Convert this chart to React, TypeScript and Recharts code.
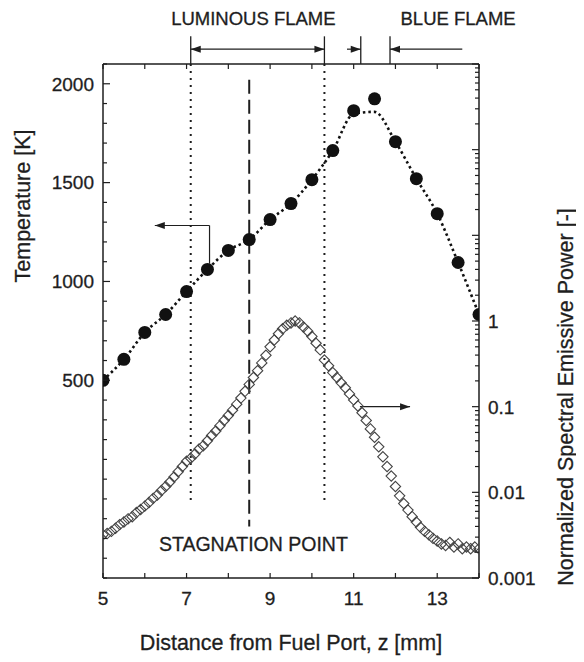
import React from 'react';
import {
  ComposedChart,
  Line,
  Scatter,
  XAxis,
  YAxis,
  ReferenceLine,
  ReferenceDot,
  Label,
} from 'recharts';

const FONT = '"Liberation Sans", Arial, Helvetica, sans-serif';
const INK = '#1e1e1e';

// temperature measurements (filled circles) and the dotted fit through them
const tempZ = [5, 5.5, 6, 6.5, 7, 7.5, 8, 8.5, 9, 9.5, 10, 10.5, 11, 11.5, 12, 12.5, 13, 13.5, 14];
const temperature = [500, 606, 742, 833, 949, 1061, 1157, 1212, 1313, 1394, 1515, 1662, 1864, 1924, 1707, 1520, 1343, 1096, 833];
const temperatureFit = [500, 606, 742, 833, 949, 1061, 1157, 1212, 1313, 1394, 1515, 1662, 1848, 1858, 1707, 1520, 1343, 1096, 833];

// normalized spectral emissive power, one sample every 0.1 mm from z = 5.0 to 14.0
const emission = [
  0.0032, 0.0033, 0.0035, 0.0038, 0.0042, 0.0045, 0.0049, 0.0052, 0.0058, 0.0063,
  0.0069, 0.0076, 0.0085, 0.0093, 0.0105, 0.0117, 0.0132, 0.0151, 0.0174, 0.020,
  0.023, 0.025, 0.028, 0.032, 0.035, 0.040, 0.046, 0.052, 0.060, 0.069,
  0.079, 0.091, 0.107, 0.126, 0.151, 0.182, 0.219, 0.263, 0.324, 0.398,
  0.50, 0.60, 0.71, 0.81, 0.89, 0.95, 1.0, 0.95, 0.85, 0.76,
  0.66, 0.55, 0.46, 0.35, 0.30, 0.25, 0.219, 0.19, 0.166, 0.141,
  0.120, 0.102, 0.085, 0.069, 0.055, 0.044, 0.034, 0.026, 0.020, 0.0155,
  0.0117, 0.0091, 0.0074, 0.0062, 0.0052, 0.0045, 0.0039, 0.0035, 0.0032, 0.0029,
  0.0027, 0.0025, 0.0024, 0.0026, 0.0023, 0.0025, 0.0022, 0.0023, 0.0022, 0.0023,
  0.0022,
];
const emissionZ = emission.map((_, i) => (50 + i) / 10);

const zTicks = [5, 6, 7, 8, 9, 10, 11, 12, 13, 14];
const zTickLabels = [5, 7, 9, 11, 13];
const tempTicks = Array.from({ length: 27 }, (_, i) => -500 + i * 100);
const tempTickLabels = [500, 1000, 1500, 2000];
const emissionDecades = [0.001, 0.01, 0.1, 1, 10, 100, 1000];
const emissionTicks = emissionDecades.flatMap((d) =>
  d === 1000 ? [d] : [1, 2, 3, 4, 5, 6, 7, 8, 9].map((m) => Number((d * m).toPrecision(3)))
);
const emissionTickLabels = [0.001, 0.01, 0.1, 1];

const tempPoints = tempZ.map((z, i) => ({ z, T: temperature[i] }));
const tempFitPoints = tempZ.map((z, i) => ({ z, T: temperatureFit[i] }));
const emissionPoints = emissionZ.map((z, i) => ({ z, E: emission[i] }));

const TICK_FS = 19;
const heavy = { stroke: INK, strokeWidth: 0.3 };

const LeftTick = (p: any) => {
  const { x, y, payload } = p;
  const major = tempTickLabels.includes(payload.value);
  return (
    <g>
      <line x1={x} y1={y} x2={x + (major ? 7 : 4)} y2={y} stroke={INK} strokeWidth={1.2} />
      {major && (
        <text x={x - 9} y={y} dy="0.36em" textAnchor="end" fontSize={TICK_FS} fill={INK} fontFamily={FONT} {...heavy}>
          {payload.value}
        </text>
      )}
    </g>
  );
};

const RightTick = (p: any) => {
  const { x, y, payload } = p;
  const major = emissionDecades.includes(payload.value);
  return (
    <g>
      <line x1={x} y1={y} x2={x - (major ? 7 : 4)} y2={y} stroke={INK} strokeWidth={1.2} />
      {emissionTickLabels.includes(payload.value) && (
        <text x={x + 9} y={y} dy="0.36em" textAnchor="start" fontSize={TICK_FS} fill={INK} fontFamily={FONT} {...heavy}>
          {String(payload.value)}
        </text>
      )}
    </g>
  );
};

const BottomTick = (p: any) => {
  const { x, y, payload } = p;
  return (
    <g>
      <line x1={x} y1={y} x2={x} y2={y - 5} stroke={INK} strokeWidth={1.2} />
      {zTickLabels.includes(payload.value) && (
        <text x={x} y={y + 20} dy="0.36em" textAnchor="middle" fontSize={TICK_FS} fill={INK} fontFamily={FONT} {...heavy}>
          {payload.value}
        </text>
      )}
    </g>
  );
};

const TopTick = (p: any) => {
  const { x, y } = p;
  return <line x1={x} y1={y} x2={x} y2={y + 5} stroke={INK} strokeWidth={1.2} />;
};

const Diamond = (p: any) => {
  const { cx, cy } = p;
  const s = 5.2;
  return (
    <path
      d={`M${cx},${cy - s}L${cx + s},${cy}L${cx},${cy + s}L${cx - s},${cy}Z`}
      fill="none"
      stroke="#444"
      strokeWidth={1.1}
    />
  );
};

const Dot = (p: any) => <circle cx={p.cx} cy={p.cy} r={6.5} fill="#111" />;

const head = (x1: number, y1: number, x2: number, y2: number) => {
  const a = Math.atan2(y2 - y1, x2 - x1);
  const L = 10;
  const W = 3.5;
  const bx = x2 - L * Math.cos(a);
  const by = y2 - L * Math.sin(a);
  return `${x2},${y2} ${bx + W * Math.sin(a)},${by - W * Math.cos(a)} ${bx - W * Math.sin(a)},${by + W * Math.cos(a)}`;
};

const arrow = (both: boolean) => (p: any) => (
  <g>
    <line x1={p.x1} y1={p.y1} x2={p.x2} y2={p.y2} stroke={INK} strokeWidth={1.2} />
    <polygon points={head(p.x1, p.y1, p.x2, p.y2)} fill={INK} />
    {both && <polygon points={head(p.x2, p.y2, p.x1, p.y1)} fill={INK} />}
  </g>
);

const note = (text: string, size: number) => (p: any) => (
  <text x={p.cx} y={p.cy} dy="0.36em" textAnchor="middle" fontSize={size} fill={INK} fontFamily={FONT} {...heavy}>
    {text}
  </text>
);

const title = (text: string, dx: number, dy: number, rotate: number) => (p: any) => {
  const vb = p.viewBox;
  const x = vb.x + dx;
  const y = vb.y + dy;
  return (
    <text
      x={x}
      y={y}
      dy="0.36em"
      textAnchor="middle"
      fontSize={21.5}
      fill={INK}
      fontFamily={FONT}
      {...heavy}
      transform={rotate ? `rotate(${rotate}, ${x}, ${y})` : undefined}
    >
      {text}
    </text>
  );
};

const axisLine = { stroke: INK, strokeWidth: 1.5 };

export default function App() {
  return (
    <div style={{ width: 576, height: 654, background: '#fff', fontFamily: FONT }}>
      <ComposedChart width={576} height={654} margin={{ top: 0, right: 0, bottom: 0, left: 0 }}>
        <XAxis
          dataKey="z"
          type="number"
          domain={[5, 14]}
          ticks={zTicks}
          interval={0}
          height={84}
          tickSize={0}
          tickMargin={0}
          tickLine={false}
          axisLine={axisLine}
          tick={BottomTick}
          allowDataOverflow
        >
          <Label content={title('Distance from Fuel Port, z [mm]', 188, 64, 0)} />
        </XAxis>
        <XAxis
          xAxisId="top"
          orientation="top"
          dataKey="z"
          type="number"
          domain={[5, 14]}
          ticks={zTicks}
          interval={0}
          height={56}
          tickSize={0}
          tickMargin={0}
          tickLine={false}
          axisLine={axisLine}
          tick={TopTick}
          allowDataOverflow
        />
        <YAxis
          yAxisId="T"
          type="number"
          domain={[-500, 2100]}
          ticks={tempTicks}
          interval={0}
          width={95}
          tickSize={0}
          tickMargin={0}
          tickLine={false}
          axisLine={axisLine}
          tick={LeftTick}
          allowDataOverflow
        >
          <Label content={title('Temperature [K]', 14, 142, -90)} />
        </YAxis>
        <YAxis
          yAxisId="E"
          orientation="right"
          type="number"
          scale="log"
          domain={[0.001, 1000]}
          ticks={emissionTicks}
          interval={0}
          width={105}
          tickSize={0}
          tickMargin={0}
          tickLine={false}
          axisLine={axisLine}
          tick={RightTick}
          allowDataOverflow
        >
          <Label content={title('Normalized Spectral Emissive Power [-]', 86, 333, -90)} />
        </YAxis>

        {/* flame zone markers */}
        <ReferenceLine yAxisId="T" ifOverflow="visible" segment={[{ x: 7.1, y: 2100 }, { x: 7.1, y: -125 }]} stroke={INK} strokeWidth={2} strokeDasharray="2 5" />
        <ReferenceLine yAxisId="T" ifOverflow="visible" segment={[{ x: 10.3, y: 2100 }, { x: 10.3, y: -125 }]} stroke={INK} strokeWidth={2} strokeDasharray="2 5" />
        <ReferenceLine yAxisId="T" ifOverflow="visible" segment={[{ x: 8.5, y: 2020 }, { x: 8.5, y: -240 }]} stroke={INK} strokeWidth={2} strokeDasharray="14 6" />
        <ReferenceLine yAxisId="T" ifOverflow="visible" segment={[{ x: 7.1, y: 2100 }, { x: 7.1, y: 2240 }]} stroke={INK} strokeWidth={1.3} />
        <ReferenceLine yAxisId="T" ifOverflow="visible" segment={[{ x: 10.3, y: 2100 }, { x: 10.3, y: 2240 }]} stroke={INK} strokeWidth={1.3} />
        <ReferenceLine yAxisId="T" ifOverflow="visible" segment={[{ x: 11.17, y: 2100 }, { x: 11.17, y: 2240 }]} stroke={INK} strokeWidth={1.3} />
        <ReferenceLine yAxisId="T" ifOverflow="visible" segment={[{ x: 11.87, y: 2100 }, { x: 11.87, y: 2240 }]} stroke={INK} strokeWidth={1.3} />
        <ReferenceLine yAxisId="T" ifOverflow="visible" segment={[{ x: 7.1, y: 2175 }, { x: 10.3, y: 2175 }]} shape={arrow(true)} />
        <ReferenceLine yAxisId="T" ifOverflow="visible" segment={[{ x: 10.84, y: 2175 }, { x: 11.17, y: 2175 }]} shape={arrow(false)} />
        <ReferenceLine yAxisId="T" ifOverflow="visible" segment={[{ x: 13.6, y: 2175 }, { x: 11.87, y: 2175 }]} shape={arrow(false)} />

        {/* series pointers */}
        <ReferenceLine yAxisId="T" ifOverflow="visible" segment={[{ x: 7.55, y: 1090 }, { x: 7.55, y: 1283 }]} stroke={INK} strokeWidth={1.2} />
        <ReferenceLine yAxisId="T" ifOverflow="visible" segment={[{ x: 7.55, y: 1283 }, { x: 6.24, y: 1283 }]} shape={arrow(false)} />
        <ReferenceLine yAxisId="E" ifOverflow="visible" segment={[{ x: 11.15, y: 0.1 }, { x: 12.35, y: 0.1 }]} shape={arrow(false)} />

        <ReferenceDot yAxisId="T" x={8.6} y={2330} r={0} ifOverflow="visible" shape={note('LUMINOUS FLAME', 18.5)} />
        <ReferenceDot yAxisId="T" x={13.5} y={2330} r={0} ifOverflow="visible" shape={note('BLUE FLAME', 18.5)} />
        <ReferenceDot yAxisId="T" x={8.6} y={-328} r={0} ifOverflow="visible" shape={note('STAGNATION POINT', 19.5)} />

        <Scatter
          yAxisId="E"
          data={emissionPoints}
          dataKey="E"
          shape={Diamond}
          isAnimationActive={false}
        />
        <Line
          yAxisId="T"
          data={tempFitPoints}
          dataKey="T"
          type="monotone"
          stroke="#111"
          strokeWidth={2.6}
          strokeDasharray="2.5 3"
          dot={false}
          activeDot={false}
          isAnimationActive={false}
        />
        <Scatter
          yAxisId="T"
          data={tempPoints}
          dataKey="T"
          shape={Dot}
          isAnimationActive={false}
        />
      </ComposedChart>
    </div>
  );
}
